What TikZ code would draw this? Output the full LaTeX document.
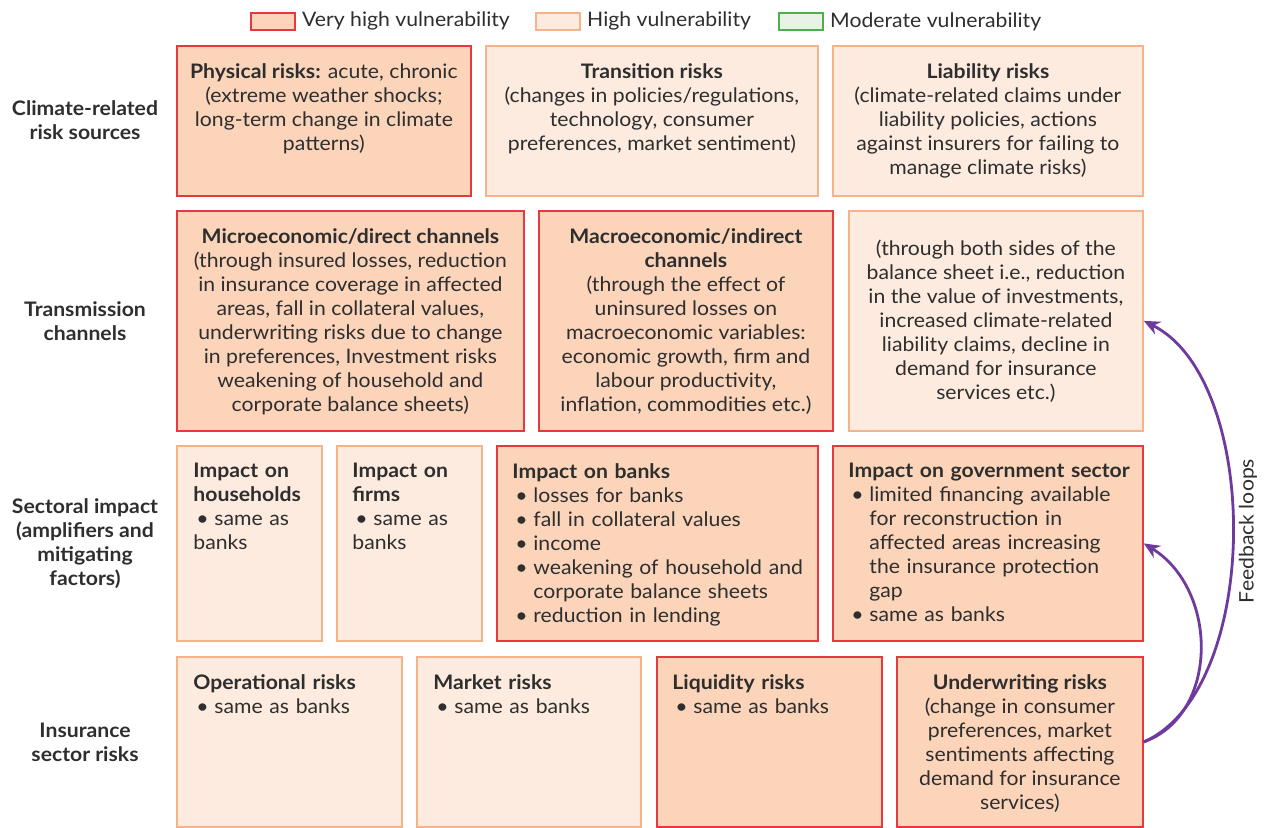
\documentclass[tikz,border=0pt]{standalone}
\usepackage{fontspec}
\setmainfont{Lato}[FakeStretch=1.06]
\usetikzlibrary{arrows.meta}

\definecolor{vhfill}{HTML}{FBD4BA}
\definecolor{vhdraw}{HTML}{E8383D}
\definecolor{hifill}{HTML}{FDEBE0}
\definecolor{hidraw}{HTML}{F7B28A}
\definecolor{mofill}{HTML}{E7F3E5}
\definecolor{modraw}{HTML}{4DAF50}
\definecolor{loopcol}{HTML}{6F3A9E}
\definecolor{txtcol}{HTML}{2E2E2E}

% bullet line with hanging indent
\newcommand{\bitem}[1]{\par\noindent\hangindent=10.5pt\hangafter=1\makebox[10.5pt][l]{\hspace{1.5pt}\textbullet}#1}

\begin{document}
\begin{tikzpicture}[
            x = 0.5pt, y = -0.5pt, % pixel grid, y down
            every node/.style = {font=\fontsize{10}{12}\selectfont, text=txtcol},
            vhigh/.style = {draw=vhdraw, fill=vhfill, line width=0.9pt, inner sep=0pt, anchor=north west},
            high/.style = {draw=hidraw, fill=hifill, line width=0.9pt, inner sep=0pt, anchor=north west},
            moder/.style = {draw=modraw, fill=mofill, line width=0.9pt, inner sep=0pt, anchor=north west},
            legbox/.style = {minimum width=22pt, minimum height=8.5pt},
            legtxt/.style = {anchor=west, inner sep=0pt},
            txtc/.style = {align=center, inner sep=0pt, anchor=north},
            txtl/.style = {inner sep=0pt, anchor=north west},
            rowlab/.style = {align=center, font=\fontsize{10}{12}\selectfont\bfseries},
            fbloop/.style = {draw=loopcol, line width=1.4pt, -{Stealth[length=8pt,width=7pt]}}
        ]
\useasboundingbox (0,0) rectangle (1265,828);

% legend
\node[vhigh, legbox] (lvh) at (250,12) {};
\node[legtxt] (lvh-t) at ([xshift=3pt]lvh.east) {Very high vulnerability};
\node[high, legbox] (lhi) at (535,12) {};
\node[legtxt] (lhi-t) at ([xshift=3pt]lhi.east) {High vulnerability};
\node[moder, legbox] (lmo) at (778,12) {};
\node[legtxt] (lmo-t) at ([xshift=3pt]lmo.east) {Moderate vulnerability};

% row labels
\node[rowlab] (r1) at (85,120) {Climate-related\\risk sources};
\node[rowlab] (r2) at (85,321) {Transmission\\channels};
\node[rowlab] (r3) at (85,544) {Sectoral impact\\(amplifiers and\\mitigating\\factors)};
\node[rowlab] (r4) at (85,742) {Insurance\\sector risks};

% row 1: risk sources
\node[vhigh, minimum width=147pt, minimum height=75pt] (phys) at (176,45) {};
\node[txtc] (phys-t) at ([yshift=-9pt]phys.north) {\textbf{Physical risks:} acute, chronic\\(extreme weather shocks;\\long-term change in climate\\patterns)};
\node[high, minimum width=166pt, minimum height=75pt] (trans) at (485,45) {};
\node[txtc] (trans-t) at ([yshift=-9pt]trans.north) {\textbf{Transition risks}\\(changes in policies/regulations,\\technology, consumer\\preferences, market sentiment)};
\node[high, minimum width=155pt, minimum height=75pt] (liab) at (832,45) {};
\node[txtc] (liab-t) at ([yshift=-9pt]liab.north) {\textbf{Liability risks}\\(climate-related claims under\\liability policies, actions\\against insurers for failing to\\manage climate risks)};

% row 2: transmission channels
\node[vhigh, minimum width=173.5pt, minimum height=110pt] (micro) at (176,210) {};
\node[txtc] (micro-t) at ([yshift=-9pt]micro.north) {\textbf{Microeconomic/direct channels}\\(through insured losses, reduction\\in insurance coverage in affected\\areas, fall in collateral values,\\underwriting risks due to change\\in preferences, Investment risks\\weakening of household and\\corporate balance sheets)};
\node[vhigh, minimum width=147pt, minimum height=110pt] (macro) at (538,210) {};
\node[txtc] (macro-t) at ([yshift=-9pt]macro.north) {\textbf{Macroeconomic/indirect}\\\textbf{channels}\\(through the effect of\\uninsured losses on\\macroeconomic variables:\\economic growth, firm and\\labour productivity,\\inflation, commodities etc.)};
\node[high, minimum width=147pt, minimum height=110pt] (bsheet) at (848,210) {};
\node[align=center, inner sep=0pt] (bsheet-t) at (bsheet.center) {(through both sides of the\\balance sheet i.e., reduction\\in the value of investments,\\increased climate-related\\liability claims, decline in\\demand for insurance\\services etc.)};

% row 3: sectoral impact
\node[high, minimum width=72.5pt, minimum height=97.5pt] (hh) at (176,445) {};
\node[txtl, text width=62pt] (hh-t) at ([xshift=8.5pt,yshift=-9pt]hh.north west) {\raggedright\textbf{Impact on}\newline\textbf{households}\bitem{same as\newline banks}};
\node[high, minimum width=72.5pt, minimum height=97.5pt] (firms) at (336,445) {};
\node[txtl, text width=62pt] (firms-t) at ([xshift=8pt,yshift=-9pt]firms.north west) {\raggedright\textbf{Impact on}\newline\textbf{firms}\bitem{same as\newline banks}};
\node[vhigh, minimum width=160.5pt, minimum height=97.5pt] (banks) at (496,445) {};
\node[txtl, text width=152pt] (banks-t) at ([xshift=8pt,yshift=-9pt]banks.north west) {\raggedright\textbf{Impact on banks}\bitem{losses for banks}\bitem{fall in collateral values}\bitem{income}\bitem{weakening of household and\newline corporate balance sheets}\bitem{reduction in lending}};
\node[vhigh, minimum width=155pt, minimum height=97.5pt] (gov) at (832,445) {};
\node[txtl, text width=147pt] (gov-t) at ([xshift=8pt,yshift=-9pt]gov.north west) {\raggedright\textbf{Impact on government sector}\bitem{limited financing available\newline for reconstruction in\newline affected areas increasing\newline the insurance protection\newline gap}\bitem{same as banks}};

% row 4: insurance sector risks
\node[high, minimum width=112.5pt, minimum height=85pt] (oper) at (176,656) {};
\node[txtl, text width=104pt] (oper-t) at ([xshift=8.5pt,yshift=-9pt]oper.north west) {\raggedright\textbf{Operational risks}\bitem{same as banks}};
\node[high, minimum width=112pt, minimum height=85pt] (market) at (416,656) {};
\node[txtl, text width=104pt] (market-t) at ([xshift=8.5pt,yshift=-9pt]market.north west) {\raggedright\textbf{Market risks}\bitem{same as banks}};
\node[vhigh, minimum width=112.5pt, minimum height=85pt] (liq) at (656,656) {};
\node[txtl, text width=104pt] (liq-t) at ([xshift=8pt,yshift=-9pt]liq.north west) {\raggedright\textbf{Liquidity risks}\bitem{same as banks}};
\node[vhigh, minimum width=123pt, minimum height=85pt] (under) at (896,656) {};
\node[txtc] (under-t) at ([yshift=-9pt]under.north) {\textbf{Underwriting risks}\\(change in consumer\\preferences, market\\sentiments affecting\\demand for insurance\\services)};

% feedback loops
\path[fbloop] (under.east) .. controls (1219,715) and (1219,590) .. (gov.east);
\path[fbloop] (under.east) .. controls (1262,690) and (1262,380) .. (bsheet.east);
\node[rotate=90] (fbl) at (1248,531) {Feedback loops};

\end{tikzpicture}
\end{document}
